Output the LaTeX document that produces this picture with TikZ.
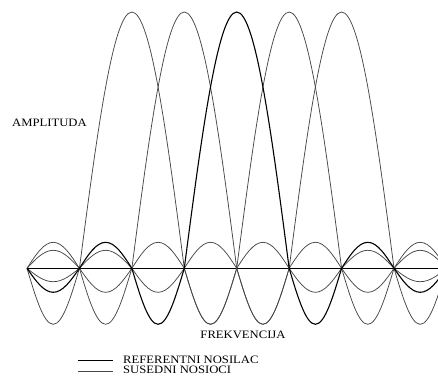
\documentclass[tikz,border=0pt]{standalone}
\usepackage{fontspec}
\setmainfont[FakeStretch=1.12]{Liberation Serif}
\newcommand\sidelobe[2]{sin ({\zo+\sp*(#1+0.5)},#2) cos ({\zo+\sp*(#1+1)},0)}
\newcommand\mainlobe[1]{sin ({\zo+\sp*#1},\pk) cos ({\zo+\sp*(#1+1)},0)}
\begin{document}
\begin{tikzpicture}[x=1pt,y=1pt,
  thincarrier/.style={line width=0.75pt,black!72},
  refcarrier/.style={line width=1.1pt,black},
  axisline/.style={line width=0.9pt,black},
  lbl/.style={font=\fontsize{11.3}{13}\selectfont,inner sep=0pt}]
\useasboundingbox (0,-107.7) rectangle (438,268.3);
\clip (0,-107.7) rectangle (438,268.3);
\def\zo{27}\def\sp{52.43}\def\pk{256.3}
% frequency axis
\coordinate (a0) at (\zo,0);
\coordinate (a1) at (438,0);
\draw[axisline] (a0) -- (a1);
% neighbouring carriers
\draw[thincarrier] (a0) \sidelobe{0}{-56} \mainlobe{2} \sidelobe{3}{-56} \sidelobe{4}{26} \sidelobe{5}{-24} \sidelobe{6}{18} \sidelobe{7}{-13.4};
\draw[thincarrier] (a0) \sidelobe{0}{26} \sidelobe{1}{-56} \mainlobe{3} \sidelobe{4}{-56} \sidelobe{5}{26} \sidelobe{6}{-24} \sidelobe{7}{18};
\draw[thincarrier] (a0) \sidelobe{0}{18} \sidelobe{1}{-24} \sidelobe{2}{26} \sidelobe{3}{-56} \mainlobe{5} \sidelobe{6}{-56} \sidelobe{7}{26};
\draw[thincarrier] (a0) \sidelobe{0}{-13.4} \sidelobe{1}{18} \sidelobe{2}{-24} \sidelobe{3}{26} \sidelobe{4}{-56} \mainlobe{6} \sidelobe{7}{-56};
% reference carrier
\draw[refcarrier] (a0) \sidelobe{0}{-24} \sidelobe{1}{26} \sidelobe{2}{-56} \mainlobe{4} \sidelobe{5}{-56} \sidelobe{6}{26} \sidelobe{7}{-24};
% labels
\node[lbl,anchor=base west] (amp) at (12,141.6) {AMPLITUDA};
\node[lbl,anchor=base] (frek) at (243,-70.2) {FREKVENCIJA};
% legend
\coordinate (l1a) at (78,-92.3); \coordinate (l1b) at (113,-92.3);
\coordinate (l2a) at (78,-102.6); \coordinate (l2b) at (113,-102.6);
\draw[refcarrier] (l1a) -- (l1b);
\draw[thincarrier] (l2a) -- (l2b);
\node[lbl,anchor=base west] (leg1) at (123,-95.4) {REFERENTNI NOSILAC};
\node[lbl,anchor=base west] (leg2) at (123,-105.6) {SUSEDNI NOSIOCI};
\end{tikzpicture}
\end{document}
